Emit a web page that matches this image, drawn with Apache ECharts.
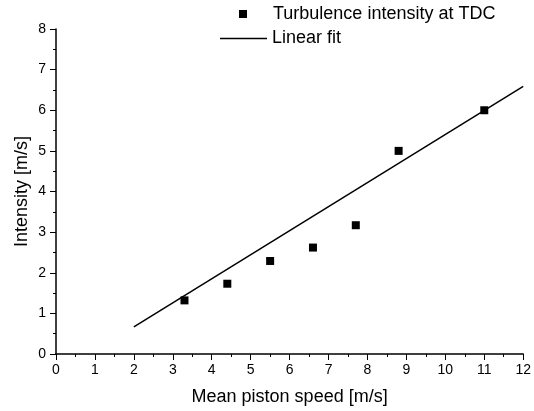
<!DOCTYPE html>
<html><head><meta charset="utf-8">
<script src="https://cdn.jsdelivr.net/npm/echarts@6/dist/echarts.min.js"></script>
<style>html,body{margin:0;padding:0;background:#fff}#c{width:534px;height:411px}</style>
</head><body><div id="c"></div>
<script>
const speeds = [3.3, 4.4, 5.5, 6.6, 7.7, 8.8, 11.0];
const intensity = [1.32, 1.73, 2.29, 2.62, 3.17, 5.0, 6.0];
const fitX = [2, 12];
const fitY = [0.67, 6.59];
const scatterName = 'Turbulence intensity at TDC';
const fitName = 'Linear fit';

const font = 'Liberation Sans, Arial, sans-serif';
const chart = echarts.init(document.getElementById('c'));
const axisCommon = {
  axisLine: {show: true, onZero: false, lineStyle: {color: '#000', width: 1.5}},
  axisTick: {show: true, inside: false, length: 6, lineStyle: {color: '#000', width: 1}},
  minorTick: {show: true, splitNumber: 2, length: 3, lineStyle: {color: '#000', width: 1}},
  splitLine: {show: false},
  axisLabel: {color: '#000', fontFamily: font, fontSize: 14},
  nameLocation: 'middle',
  nameMoveOverlap: false,
  nameTextStyle: {color: '#000', fontFamily: font, fontSize: 18}
};
chart.setOption({
  animation: false,
  backgroundColor: '#fff',
  grid: {left: 56, right: 7, top: 29, bottom: 55, containLabel: false},
  legend: [
    {data: [scatterName], orient: 'vertical', left: 239, top: 5, padding: 0, icon: 'rect', itemWidth: 8, itemHeight: 8,
     textStyle: {color: '#000', fontFamily: font, fontSize: 18, padding: [0, 0, 0, 21]}},
    {data: [fitName], orient: 'vertical', left: 220, top: 29.5, padding: 0, icon: 'rect', itemWidth: 47, itemHeight: 1.5,
     textStyle: {color: '#000', fontFamily: font, fontSize: 18}}
  ],
  xAxis: Object.assign({}, axisCommon, {
    type: 'value', min: 0, max: 12, interval: 1, name: 'Mean piston speed [m/s]', nameGap: 34,
    axisLabel: Object.assign({}, axisCommon.axisLabel, {margin: 9})
  }),
  yAxis: Object.assign({}, axisCommon, {
    type: 'value', min: 0, max: 8, interval: 1, name: 'Intensity [m/s]', nameGap: 25,
    axisLabel: Object.assign({}, axisCommon.axisLabel, {margin: 10})
  }),
  series: [
    {name: scatterName, type: 'scatter', symbol: 'rect', symbolSize: 8, itemStyle: {color: '#000', opacity: 1},
     data: speeds.map((s, i) => [s, intensity[i]])},
    {name: fitName, type: 'line', symbol: 'none', showSymbol: false, lineStyle: {color: '#000', width: 1.5}, itemStyle: {color: '#000'},
     data: fitX.map((x, i) => [x, fitY[i]])}
  ]
});
</script></body></html>
